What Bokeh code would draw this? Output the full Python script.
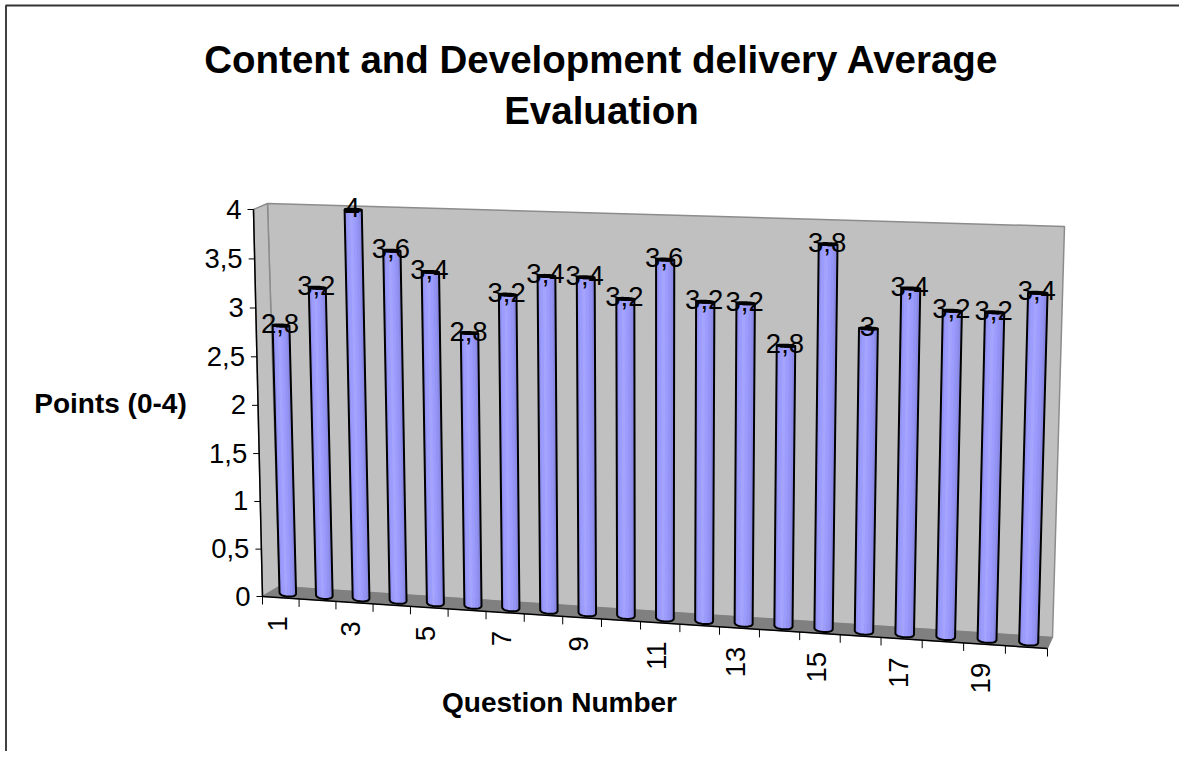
import numpy as np
from bokeh.plotting import figure
from bokeh.core.properties import value
from bokeh.models import Range1d
from bokeh.embed import file_html
from bokeh.resources import INLINE

TITLE = ["Content and Development delivery Average", "Evaluation"]
X_TITLE = "Question Number"
Y_TITLE = "Points (0-4)"
questions = list(range(1, 21))
points = [2.8, 3.2, 4, 3.6, 3.4, 2.8, 3.2, 3.4, 3.4, 3.2,
          3.6, 3.2, 3.2, 2.8, 3.8, 3, 3.4, 3.2, 3.2, 3.4]
y_ticks = [0, 0.5, 1, 1.5, 2, 2.5, 3, 3.5, 4]
y_max = 4

W, H = 1179, 751
FONT = value("Liberation Sans")
LABEL_SIZE = "27.5px"


def homography(q):
    (x0, y0), (x1, y1), (x2, y2), (x3, y3) = q
    dx1, dx2, sx = x1 - x2, x3 - x2, x0 - x1 + x2 - x3
    dy1, dy2, sy = y1 - y2, y3 - y2, y0 - y1 + y2 - y3
    g, h = np.linalg.solve([[dx1, dx2], [dy1, dy2]], [sx, sy])
    return np.array([[x1 - x0 + g * x1, x3 - x0 + h * x3, x0],
                     [y1 - y0 + g * y1, y3 - y0 + h * y3, y0],
                     [g, h, 1.0]])


# plane corners: (t=0,v=0), (t=1,v=0), (t=1,v=1), (t=0,v=1)
FRONT = homography([(262, 596), (1047, 648), (1058, 232), (253, 209)])
BACK = homography([(279, 586), (1052, 637), (1064, 226), (267, 203)])


def proj(t, v, d=0.0):
    """t along categories 0..1, v height 0..1, d depth 0(front)..1(back)"""
    out = []
    for M in (FRONT, BACK):
        a = M @ np.array([t, v, 1.0])
        out.append(a[:2] / a[2])
    return out[0] * (1 - d) + out[1] * d


def pts(*corners):
    arr = [proj(*c) for c in corners]
    return [float(a[0]) for a in arr], [float(a[1]) for a in arr]


p = figure(width=W, height=H, x_range=Range1d(0, W), y_range=Range1d(H, 0),
           output_backend="svg", toolbar_location=None, min_border=0,
           x_axis_type=None, y_axis_type=None,
           background_fill_color="white", border_fill_color="white",
           outline_line_color=None)
p.grid.visible = False

# chart-area border
p.line([5.5, 5.5], [5, H], line_color="black", line_width=1.5)
p.line([5, W], [5, 5], line_color="#333333", line_width=2)

WALL, EDGE, FLOOR = "#c0c0c0", "#8c8c8c", "#808080"
# back wall, left wall, floor
xs, ys = pts((0, 0, 1), (1, 0, 1), (1, 1, 1), (0, 1, 1))
p.patch(xs, ys, fill_color=WALL, line_color=EDGE, line_width=1.5)
xs, ys = pts((0, 0, 0), (0, 0, 1), (0, 1, 1), (0, 1, 0))
p.patch(xs, ys, fill_color=WALL, line_color=EDGE, line_width=1.5)
xs, ys = pts((0, 0, 0), (1, 0, 0), (1, 0, 1), (0, 0, 1))
p.patch(xs, ys, fill_color=FLOOR, line_color=FLOOR, line_width=1)

# axes
xs, ys = pts((0, 0, 0), (1, 0, 0))
p.line(xs, ys, line_color="black", line_width=1.5)
xs, ys = pts((0, 0, 0), (0, 1, 0))
p.line(xs, ys, line_color="black", line_width=1.5)

n = len(questions)
for i in range(n + 1):
    a = proj(i / n, 0)
    p.line([float(a[0]), float(a[0])], [float(a[1]), float(a[1]) + 8],
           line_color="black", line_width=1)
for tick in y_ticks:
    a = proj(0, tick / y_max)
    p.line([float(a[0]) - 6, float(a[0])], [float(a[1]), float(a[1])],
           line_color="black", line_width=1)

# y tick labels
tx, ty, tl = [], [], []
for tick in y_ticks:
    a = proj(0, tick / y_max)
    tx.append(float(a[0]) - 12)
    ty.append(float(a[1]) - 0.5)
    tl.append(str(tick).replace(".", ",").replace(",0", ""))
p.text(tx, ty, tl, text_font=FONT, text_font_size=LABEL_SIZE, text_color="black",
       text_align="right", text_baseline="alphabetic")

# x tick labels (every second category)
tx, ty, tl = [], [], []
for i, q in enumerate(questions):
    if i % 2 == 0:
        a = proj((i + 0.5) / n, 0)
        tx.append(float(a[0]) - 3.5)
        ty.append(float(a[1]) + 18.5)
        tl.append(str(q))
p.text(tx, ty, tl, angle=np.pi / 2, text_font=FONT, text_font_size=LABEL_SIZE,
       text_color="black", text_align="right", text_baseline="alphabetic")

# bars
STRIPS = ["#9292f2", "#9c9cff", "#a4a4ff", "#9c9cff", "#9494f6", "#8a8ae6"]
HALF = 0.227 / n
DEPTH = 0.42
CAP = 1.0
BOTTOM = 3.0
labels_x, labels_y, labels_t = [], [], []
for i, val in enumerate(points):
    v = val / y_max
    tc = (i + 0.5) / n
    ns = len(STRIPS)
    fr = np.linspace(-1, 1, ns + 1)
    for k, col in enumerate(STRIPS):
        f0, f1 = fr[k], fr[k + 1]
        seg = np.linspace(f0, f1, 5)
        low = [proj(tc + f * HALF, 0, DEPTH) + np.array([0, BOTTOM * np.sqrt(1 - f * f)]) for f in seg]
        high = [proj(tc + f * HALF, v, DEPTH) + np.array([0, CAP * np.sqrt(1 - f * f)]) for f in seg[::-1]]
        poly = low + high
        p.patch([float(a[0]) for a in poly], [float(a[1]) for a in poly],
                fill_color=col, line_color=col, line_width=0.5)
    seg = np.linspace(-1, 1, 17)
    low = [proj(tc + f * HALF, 0, DEPTH) + np.array([0, BOTTOM * np.sqrt(1 - f * f)]) for f in seg]
    high = [proj(tc + f * HALF, v, DEPTH) + np.array([0, CAP * np.sqrt(1 - f * f)]) for f in seg[::-1]]
    poly = low + high
    p.patch([float(a[0]) for a in poly], [float(a[1]) for a in poly],
            fill_color=None, line_color="black", line_width=2, line_join="round")
    top = [proj(tc + f * HALF, v, DEPTH) + np.array([0, CAP * np.sqrt(1 - f * f)]) for f in seg] + \
          [proj(tc + f * HALF, v, DEPTH) - np.array([0, CAP * np.sqrt(1 - f * f)]) for f in seg[::-1]]
    p.patch([float(a[0]) for a in top], [float(a[1]) for a in top],
            fill_color="#a8a8ff", line_color="black", line_width=2)
    c = proj(tc, v, DEPTH)
    labels_x.append(float(c[0]) - 1)
    labels_y.append(float(c[1]) - 2)
    labels_t.append(str(val).replace(".", ","))

p.text(labels_x, labels_y, labels_t, text_font=FONT, text_font_size=LABEL_SIZE,
       text_color="black", text_align="center", text_baseline="alphabetic")

# titles
p.text([601, 601], [59, 110], TITLE, text_font=FONT, text_font_size="38.5px",
       text_font_style="bold", text_color="black", text_align="center",
       text_baseline="alphabetic")
p.text([559], [702], [X_TITLE], text_font=FONT, text_font_size="28px",
       text_font_style="bold", text_color="black", text_align="center",
       text_baseline="alphabetic")
p.text([110], [403], [Y_TITLE], text_font=FONT, text_font_size="28px",
       text_font_style="bold", text_color="black", text_align="center",
       text_baseline="alphabetic")

open("out.html", "w").write(file_html(p, INLINE))
